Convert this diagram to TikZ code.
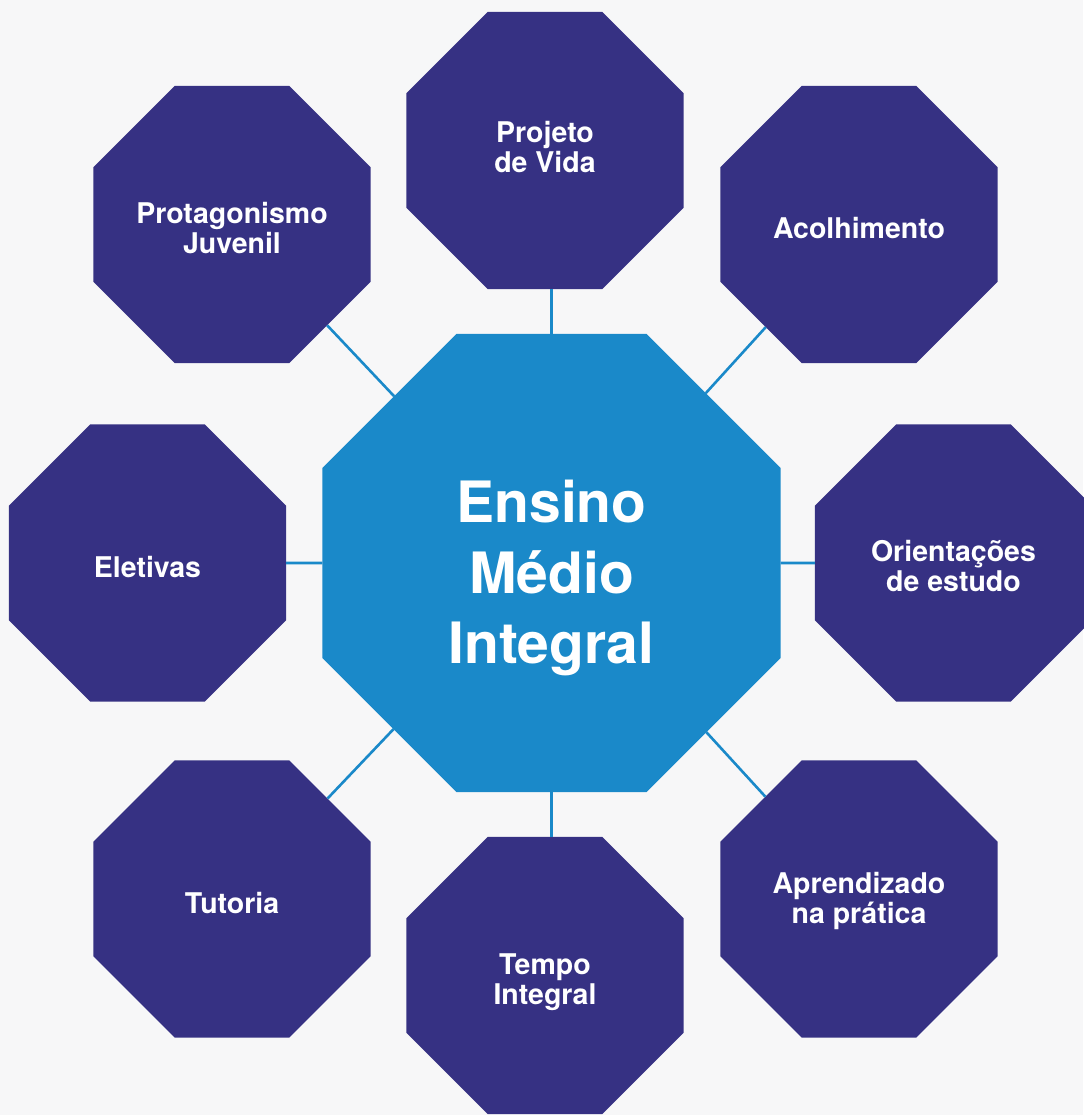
\documentclass[tikz,border=0pt]{standalone}
\usepackage{fontspec}
\setmainfont{TeX Gyre Heros}
\usetikzlibrary{shapes.geometric,positioning}

\definecolor{plum}{RGB}{54,49,131}
\definecolor{sky}{RGB}{26,137,201}
\definecolor{paper}{RGB}{247,247,248}

% invisible rules to nudge the text block inside an octagon
\newcommand{\tallstrut}[1]{\rule{0pt}{#1}}
\newcommand{\deepstrut}[1]{\rule[-#1]{0pt}{#1}}

\begin{document}
\begin{tikzpicture}[x=1pt,y=1pt,on grid,
    oct/.style={regular polygon,regular polygon sides=8,inner sep=0pt,outer sep=0pt,
      text=white,align=center},
    main node/.style={oct,fill=sky,minimum size=496pt,font=\fontsize{57}{70.5}\selectfont\bfseries},
    side node/.style={oct,fill=plum,minimum size=300pt,font=\fontsize{28.5}{30}\selectfont\bfseries},
    link/.style={draw=sky,line width=2.6pt}]

  \fill[paper] (-551.5,-552) rectangle (531.5,563);
  \useasboundingbox (-551.5,-552) rectangle (531.5,563);

  \node[main node] (emi) {\tallstrut{73pt}Ensino\\Médio\\Integral};
  \node[side node] (vida) [above left=412.5pt and 6.5pt of emi] {Projeto\\de Vida\deepstrut{8pt}};
  \node[side node] (prot) [above left=338.5pt and 319.5pt of emi] {\tallstrut{29pt}Protagonismo\\Juvenil};
  \node[side node] (acol) [above right=338.5pt and 307.5pt of emi] {\tallstrut{29pt}Acolhimento};
  \node[side node] (elet) [left=404pt of emi] {\tallstrut{29pt}Eletivas};
  \node[side node] (orie) [right=402pt of emi] {\tallstrut{28pt}Orientações\\de estudo};
  \node[side node] (tuto) [below left=336pt and 319.5pt of emi] {\tallstrut{29pt}Tutoria};
  \node[side node] (apre) [below right=336pt and 307.5pt of emi] {\tallstrut{26pt}Aprendizado\\na prática};
  \node[side node] (temp) [below left=412.5pt and 6.5pt of emi] {\tallstrut{35pt}Tempo\\Integral};

  \path[link]
    (emi.north) edge (emi.north |- vida.south)
    (emi.south) edge (emi.south |- temp.north)
    (emi) edge (prot)
    (emi) edge (acol)
    (emi) edge (elet)
    (emi) edge (orie)
    (emi) edge (tuto)
    (emi) edge (apre);
\end{tikzpicture}
\end{document}
